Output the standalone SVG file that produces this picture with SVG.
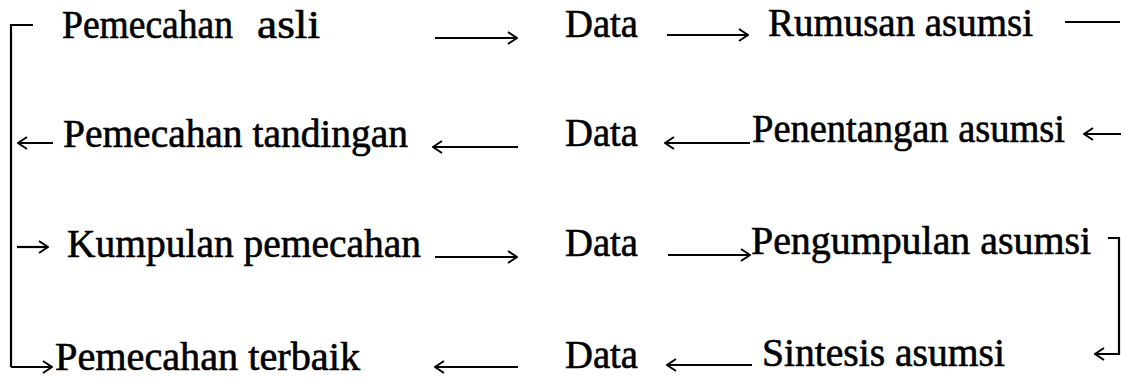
<svg xmlns="http://www.w3.org/2000/svg" width="1125" height="379" viewBox="0 0 1125 379">
<defs>
<marker id="ah" viewBox="0 0 12 14" refX="11" refY="7" markerWidth="12" markerHeight="14" markerUnits="userSpaceOnUse" orient="auto">
<path d="M2,1 L11,7 L2,13" fill="none" stroke="#000" stroke-width="2"/>
</marker>
<style>
text{font-family:"Liberation Serif","Times New Roman",serif;font-size:39px;fill:#000;stroke:#000;stroke-width:0.6}
.c line,.c path{stroke:#000;stroke-width:2.2;fill:none}
.a{marker-end:url(#ah)}
</style>
</defs>
<rect width="1125" height="379" fill="#fff"/>
<g id="n-pemecahan-asli"><text x="62" y="38" textLength="171" lengthAdjust="spacingAndGlyphs">Pemecahan</text><text x="257" y="38" textLength="63" lengthAdjust="spacingAndGlyphs">asli</text></g>
<g id="n-data-1"><text x="565" y="37" textLength="73" lengthAdjust="spacingAndGlyphs">Data</text></g>
<g id="n-rumusan"><text x="768" y="36" textLength="265" lengthAdjust="spacingAndGlyphs">Rumusan asumsi</text></g>
<g id="n-tandingan"><text x="63" y="147" textLength="345" lengthAdjust="spacingAndGlyphs">Pemecahan tandingan</text></g>
<g id="n-data-2"><text x="565" y="146" textLength="73" lengthAdjust="spacingAndGlyphs">Data</text></g>
<g id="n-penentangan"><text x="752" y="142" textLength="313" lengthAdjust="spacingAndGlyphs">Penentangan asumsi</text></g>
<g id="n-kumpulan"><text x="67" y="257" textLength="354" lengthAdjust="spacingAndGlyphs">Kumpulan pemecahan</text></g>
<g id="n-data-3"><text x="565" y="256" textLength="73" lengthAdjust="spacingAndGlyphs">Data</text></g>
<g id="n-pengumpulan"><text x="751" y="254" textLength="340" lengthAdjust="spacingAndGlyphs">Pengumpulan asumsi</text></g>
<g id="n-terbaik"><text x="55" y="370" textLength="305" lengthAdjust="spacingAndGlyphs">Pemecahan terbaik</text></g>
<g id="n-data-4"><text x="565" y="368" textLength="73" lengthAdjust="spacingAndGlyphs">Data</text></g>
<g id="n-sintesis"><text x="762" y="366" textLength="243" lengthAdjust="spacingAndGlyphs">Sintesis asumsi</text></g>
<g id="connectors" class="c">
<line class="a" x1="435" y1="38" x2="517" y2="38"/>
<line class="a" x1="667" y1="35" x2="748" y2="35"/>
<line x1="1065" y1="22" x2="1120" y2="22"/>
<path d="M33,25 H11 V367"/>
<line class="a" x1="53" y1="143" x2="18" y2="143"/>
<line class="a" x1="17" y1="247" x2="48" y2="247"/>
<line class="a" x1="11" y1="367" x2="52" y2="367"/>
<line class="a" x1="518" y1="147" x2="433" y2="147"/>
<line class="a" x1="750" y1="143" x2="665" y2="143"/>
<line class="a" x1="1121" y1="134" x2="1084" y2="134"/>
<line class="a" x1="435" y1="257" x2="517" y2="257"/>
<line class="a" x1="668" y1="255" x2="750" y2="255"/>
<path class="a" d="M1108,238 H1119 V354 H1095"/>
<line class="a" x1="518" y1="367" x2="435" y2="367"/>
<line class="a" x1="752" y1="365" x2="667" y2="365"/>
</g>
</svg>
